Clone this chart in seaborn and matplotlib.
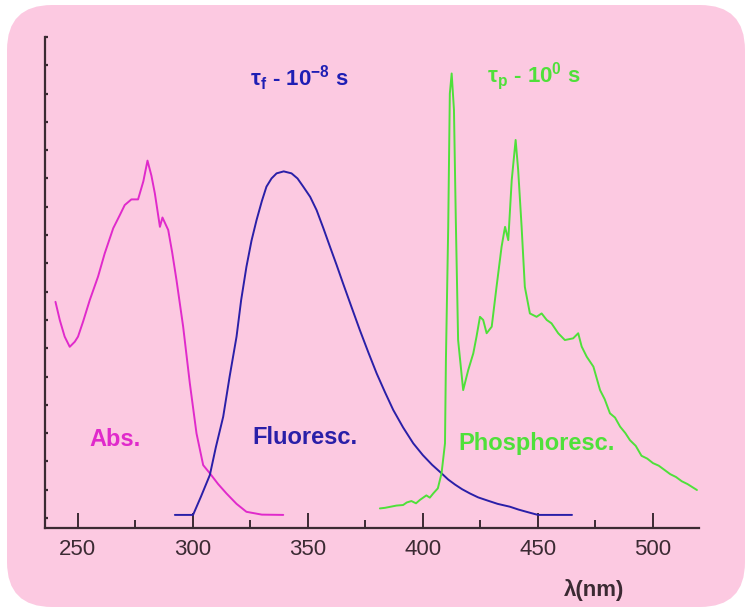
import numpy as np
import pandas as pd
import matplotlib
matplotlib.use("Agg")
import matplotlib.pyplot as plt
import seaborn as sns
from matplotlib.patches import FancyBboxPatch
from matplotlib.transforms import IdentityTransform

# spectra (wavelength nm, relative intensity)
abs_wl = [240.3, 242.2, 244.3, 246.5, 248.7, 250.1, 252.3, 255.2, 258.8, 261.7,
          265.4, 268.3, 270.4, 273.3, 276.2, 278.5, 280.3, 282.0, 283.5, 285.7,
          286.8, 289.3, 291.0, 292.9, 295.8, 298.7, 301.6, 304.5, 307.4, 311.0,
          314.6, 319.0, 323.3, 330.0, 339.3]
abs_int = [7.64, 6.99, 6.41, 6.05, 6.23, 6.41, 6.94, 7.70, 8.53, 9.35,
           10.24, 10.71, 11.06, 11.26, 11.26, 11.90, 12.63, 12.10, 11.47, 10.29,
           10.62, 10.18, 9.40, 8.41, 6.76, 4.76, 2.99, 1.87, 1.58, 1.20,
           0.87, 0.50, 0.22, 0.12, 0.11]

fluo_wl = [292.2, 300.1, 303.5, 307.4, 310.0, 313.2, 316.0, 319.0, 321.0, 323.3,
           325.5, 327.7, 330.0, 332.0, 334.2, 336.4, 339.5, 342.9, 345.5, 348.0,
           351.0, 353.8, 356.7, 359.6, 362.5, 365.3, 369.0, 372.6, 376.3, 379.9,
           383.5, 387.1, 391.4, 395.8, 400.0, 404.0, 408.1, 411.0, 414.0, 417.0,
           420.4, 424.0, 428.0, 432.5, 437.8, 441.5, 445.0, 450.0, 464.8]
fluo_int = [0.11, 0.11, 0.75, 1.52, 2.50, 3.58, 5.00, 6.41, 7.70, 8.88,
            9.80, 10.53, 11.20, 11.71, 12.00, 12.18, 12.25, 12.18, 12.00, 11.71,
            11.35, 10.88, 10.25, 9.59, 8.94, 8.29, 7.45, 6.64, 5.85, 5.11,
            4.45, 3.82, 3.20, 2.64, 2.22, 1.88, 1.58, 1.36, 1.18, 1.02,
            0.87, 0.73, 0.62, 0.50, 0.40, 0.30, 0.22, 0.11, 0.11]

phos_wl = [381.3, 383.5, 386.0, 388.5, 391.4, 393.0, 395.0, 397.0, 398.7, 401.5,
           403.0, 404.5, 406.5, 408.1, 409.6, 410.0, 411.0, 411.7, 412.5, 413.5,
           414.3, 415.3, 417.5, 419.7, 421.9, 423.3, 424.8, 426.2, 427.7, 429.9,
           432.0, 434.2, 435.7, 437.1, 438.6, 440.3, 441.4, 442.9, 444.3, 446.5,
           449.4, 451.6, 453.8, 455.9, 458.8, 461.7, 465.3, 467.5, 469.0, 471.2,
           474.1, 477.0, 479.0, 481.3, 483.5, 485.7, 488.0, 490.0, 492.5, 495.0,
           497.5, 500.0, 502.5, 505.0, 507.5, 510.0, 512.5, 515.0, 519.1]
phos_int = [0.34, 0.36, 0.40, 0.44, 0.46, 0.55, 0.60, 0.52, 0.64, 0.80,
            0.72, 0.87, 1.05, 1.58, 2.64, 5.58, 10.29, 15.00, 15.71, 14.42,
            10.53, 6.29, 4.52, 5.23, 5.82, 6.41, 7.11, 7.00, 6.53, 6.76,
            8.17, 9.59, 10.29, 9.82, 11.94, 13.36, 12.30, 10.29, 8.17, 7.23,
            7.11, 7.23, 7.00, 6.88, 6.53, 6.29, 6.35, 6.53, 6.06, 5.70,
            5.35, 4.52, 4.20, 3.70, 3.55, 3.23, 3.00, 2.75, 2.55, 2.20,
            2.10, 1.94, 1.85, 1.70, 1.55, 1.45, 1.30, 1.20, 0.99]

pink = "#FCC9E1"
dark = "#3B2A33"
c_abs = "#E02ACB"
c_fluo = "#2A1FA8"
c_phos = "#4FE03A"
c_tau_f = "#1E1EB4"

sns.set_style("ticks")
plt.rcParams["font.family"] = ["Liberation Sans", "DejaVu Sans"]
plt.rcParams["mathtext.fontset"] = "custom"
plt.rcParams["mathtext.rm"] = "Liberation Sans:bold"
plt.rcParams["mathtext.it"] = "Liberation Sans:bold"
plt.rcParams["mathtext.bf"] = "Liberation Sans:bold"
plt.rcParams["mathtext.default"] = "bf"

fig = plt.figure(figsize=(7.48, 6.10), dpi=100, facecolor="white")
bg = FancyBboxPatch((7, 3), 738, 602, boxstyle="round,pad=0,rounding_size=45",
                    transform=IdentityTransform(), facecolor=pink,
                    edgecolor="none", zorder=-10)
fig.add_artist(bg)

ax = fig.add_axes([0.060, 0.1344, 0.8745, 0.8050])
ax.set_facecolor("none")

sns.lineplot(x=abs_wl, y=abs_int, sort=False, color=c_abs, lw=1.4, ax=ax)
sns.lineplot(x=fluo_wl, y=fluo_int, sort=False, color=c_fluo, lw=1.4, ax=ax)
sns.lineplot(x=phos_wl, y=phos_int, sort=False, color=c_phos, lw=1.4, ax=ax)

ax.set_xlim(235.7, 520)
ax.set_ylim(-0.353, 17)
sns.despine(ax=ax)
for s in ["left", "bottom"]:
    ax.spines[s].set_color(dark)
    ax.spines[s].set_linewidth(1.6)

ax.set_xticks(np.arange(250, 501, 50))
ax.set_xticks(np.arange(275, 520, 50), minor=True)
ax.set_yticks(np.arange(0, 18, 1))
ax.set_yticklabels([])
ax.tick_params(axis="x", which="major", direction="in", length=11, width=1.4,
               color=dark, labelcolor=dark, labelsize=16, pad=8)
ax.tick_params(axis="x", which="minor", direction="in", length=5.5, width=1.4,
               color=dark)
ax.tick_params(axis="y", direction="in", length=2.5, width=1.6, color=dark)

ax.text(266.1, 2.76, "Abs.", color=c_abs, fontsize=17, fontweight="bold",
        ha="center", va="center")
ax.text(348.7, 2.83, "Fluoresc.", color=c_fluo, fontsize=17, fontweight="bold",
        ha="center", va="center")
ax.text(449.6, 2.65, "Phosphoresc.", color=c_phos, fontsize=17, fontweight="bold",
        ha="center", va="center")
ax.text(324.8, 15.27, r"$\tau_f$ - 10$^{-8}$ s", color=c_tau_f, fontsize=16,
        fontweight="bold", ha="left", va="baseline")
ax.text(427.8, 15.42, r"$\tau_p$ - 10$^{0}$ s", color=c_phos, fontsize=16,
        fontweight="bold", ha="left", va="baseline")

fig.text(594 / 748, 1 - 590 / 610, "λ(nm)", color=dark, fontsize=16,
         fontweight="bold", ha="center", va="center")

fig.savefig("out.png", dpi=100)
